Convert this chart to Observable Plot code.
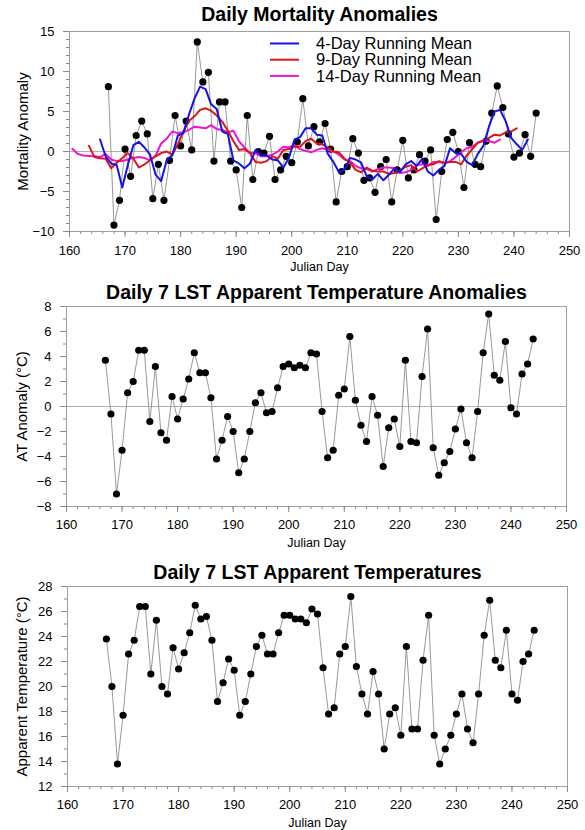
<!DOCTYPE html>
<html><head><meta charset="utf-8">
<script src="https://cdn.jsdelivr.net/npm/d3@7"></script>
<script src="https://cdn.jsdelivr.net/npm/@observablehq/plot@0.6"></script>
<style>
body{margin:0;background:#fff;font-family:"Liberation Sans",Arial,sans-serif;}
#wrap{position:relative;width:585px;height:830px;overflow:hidden;}
#wrap svg{position:absolute;left:0;}
</style></head><body><div id="wrap"></div>
<script>
// ---------- data ----------
const days = [167,168,169,170,171,172,173,174,175,176,177,178,179,180,181,182,183,184,185,186,187,188,189,190,191,192,193,194,195,196,197,198,199,200,201,202,203,204,205,206,207,208,209,210,211,212,213,214,215,216,217,218,219,220,221,222,223,224,225,226,227,228,229,230,231,232,233,234,235,236,237,238,239,240,241,242,243,244];
const mortality = [8.1,-9.2,-6.1,0.3,-3.1,2.0,3.8,2.2,-5.9,-1.6,-6.1,-1.1,4.5,0.7,3.8,0.2,13.7,8.7,9.9,-1.2,6.2,6.2,-1.2,-2.3,-7.0,4.5,-3.5,0.0,-0.2,1.9,-3.5,-2.3,-0.6,-1.4,1.2,6.6,0.7,3.1,1.2,3.5,0.3,-6.3,-2.5,-1.9,1.6,-0.2,-3.6,-3.3,-5.1,-1.9,-1.0,-6.3,-2.3,1.4,-3.3,-2.3,-0.4,-1.2,0.2,-8.5,-2.5,1.5,2.4,0.0,-4.5,1.1,-1.6,-1.9,1.3,4.8,8.2,5.5,2.2,-0.7,-0.2,2.1,-0.6,4.8];
const atAnomaly = [3.7,-0.6,-7.0,-3.5,1.1,2.0,4.5,4.5,-1.2,3.2,-2.1,-2.7,0.8,-1.0,0.6,2.2,4.3,2.7,2.7,0.7,-4.2,-2.7,-0.8,-2.0,-5.3,-4.2,-2.0,0.3,1.1,-0.5,-0.4,1.5,3.2,3.4,3.1,3.3,3.1,4.3,4.2,-0.4,-4.1,-3.5,0.9,1.4,5.6,0.5,-1.5,-2.8,0.8,-0.7,-4.8,-1.7,-1.0,-3.2,3.7,-2.8,-2.9,2.4,6.2,-3.3,-5.5,-4.5,-3.6,-1.8,-0.2,-2.9,-4.1,-0.4,4.3,7.4,2.5,2.1,5.2,-0.1,-0.6,2.6,3.4,5.4];
const appTemp = [23.8,20.0,13.8,17.7,22.6,23.7,26.4,26.4,21.0,25.3,20.0,19.4,23.1,21.4,22.7,24.3,26.5,25.4,25.6,23.7,18.8,20.3,22.2,21.3,17.7,18.8,21.0,23.2,24.1,22.6,22.6,24.3,25.7,25.7,25.4,25.4,25.1,26.2,25.8,21.5,17.8,18.3,22.6,23.2,27.2,21.6,19.4,17.8,21.2,19.4,15.0,17.8,18.3,16.1,23.2,16.6,16.6,22.1,25.7,16.1,13.8,15.0,16.1,17.8,19.4,16.6,15.5,19.4,24.1,26.9,22.1,21.5,24.5,19.4,18.9,22.0,22.6,24.5];

const run4Days = [165.5,166.5,167.5,168.5,169.5,170.5,171.5,172.5,173.5,174.5,175.5,176.5,177.5,178.5,179.5,180.5,181.5,182.5,183.5,184.5,185.5,186.5,187.5,188.5,189.5,190.5,191.5,192.5,193.5,194.5,195.5,196.5,197.5,198.5,199.5,200.5,201.5,202.5,203.5,204.5,205.5,206.5,207.5,208.5,209.5,210.5,211.5,212.5,213.5,214.5,215.5,216.5,217.5,218.5,219.5,220.5,221.5,222.5,223.5,224.5,225.5,226.5,227.5,228.5,229.5,230.5,231.5,232.5,233.5,234.5,235.5,236.5,237.5,238.5,239.5,240.5,241.5,242.5];
const run4 = [1.5,-0.6,-1.5,-1.7,-4.5,-1.7,0.8,1.2,0.5,-0.4,-2.9,-3.7,-1.1,-0.5,2.0,2.3,4.6,6.6,8.1,7.8,5.9,5.3,2.5,2.2,-1.1,-1.5,-2.1,-1.5,0.2,-0.5,-0.5,-1.0,-1.1,-2.0,-0.8,1.5,1.8,2.9,2.9,2.1,2.0,-0.3,-1.3,-2.6,-2.3,-0.8,-1.0,-1.4,-3.1,-3.5,-2.8,-3.6,-2.9,-2.1,-2.6,-1.6,-1.2,-1.8,-0.9,-2.5,-3.0,-2.3,-1.8,0.4,-0.2,-0.3,-1.3,-1.7,-0.3,0.7,3.1,5.0,5.2,3.8,1.7,0.9,0.2,1.5];

const run9Days = [163.5,164.5,165.5,166.5,167.5,168.5,169.5,170.5,171.5,172.5,173.5,174.5,175.5,176.5,177.5,178.5,179.5,180.5,181.5,182.5,183.5,184.5,185.5,186.5,187.5,188.5,189.5,190.5,191.5,192.5,193.5,194.5,195.5,196.5,197.5,198.5,199.5,200.5,201.5,202.5,203.5,204.5,205.5,206.5,207.5,208.5,209.5,210.5,211.5,212.5,213.5,214.5,215.5,216.5,217.5,218.5,219.5,220.5,221.5,222.5,223.5,224.5,225.5,226.5,227.5,228.5,229.5,230.5,231.5,232.5,233.5,234.5,235.5,236.5,237.5,238.5,239.5,240.5];
const run9 = [0.7,-0.7,-0.85,-0.9,-2.1,-1.4,-0.8,-0.2,-0.9,-2.0,-1.6,-1.1,-0.6,-0.2,0.0,-0.4,0.9,2.5,3.8,4.4,5.2,5.4,5.1,4.5,3.7,2.6,1.3,0.2,0.3,-0.2,-1.3,-1.4,-1.2,-0.6,-0.9,0.2,0.3,0.6,0.6,1.3,1.6,1.0,0.9,0.5,0.0,-0.1,-0.9,-1.4,-2.3,-2.6,-2.0,-2.4,-2.5,-2.5,-2.8,-2.7,-2.4,-1.9,-1.7,-2.5,-2.1,-1.7,-1.6,-1.2,-1.4,-1.3,-1.3,-1.6,-0.5,0.3,1.1,1.4,1.7,2.1,2.0,2.4,2.5,2.9];

const run14Days = [160.5,161.5,162.5,163.5,164.5,165.5,166.5,167.5,168.5,169.5,170.5,171.5,172.5,173.5,174.5,175.5,176.5,177.5,178.5,179.5,180.5,181.5,182.5,183.5,184.5,185.5,186.5,187.5,188.5,189.5,190.5,191.5,192.5,193.5,194.5,195.5,196.5,197.5,198.5,199.5,200.5,201.5,202.5,203.5,204.5,205.5,206.5,207.5,208.5,209.5,210.5,211.5,212.5,213.5,214.5,215.5,216.5,217.5,218.5,219.5,220.5,221.5,222.5,223.5,224.5,225.5,226.5,227.5,228.5,229.5,230.5,231.5,232.5,233.5,234.5,235.5,236.5,237.5];
const run14 = [0.35,-0.3,-0.5,-0.55,-0.6,-0.7,-0.3,-1.0,-1.2,-1.2,-1.0,-0.8,-0.7,-0.8,-1.1,-0.5,1.0,1.6,2.5,2.3,2.4,2.7,3.1,3.0,2.9,3.3,2.8,2.7,2.4,2.6,1.3,0.5,-0.2,-0.2,-0.6,-0.6,-0.4,0.0,0.6,0.5,0.8,0.3,0.1,-0.1,0.2,0.4,0.2,0.0,-0.4,-1.0,-1.2,-1.8,-2.1,-2.2,-2.5,-2.2,-2.0,-2.0,-2.1,-2.7,-2.6,-2.3,-1.7,-1.6,-1.8,-1.3,-1.3,-1.5,-1.2,-0.7,-0.1,0.4,0.6,1.1,1.3,1.3,1.1,1.5];

const titles = ["Daily Mortality Anomalies", "Daily 7 LST Apparent Temperature Anomalies", "Daily 7 LST Apparent Temperatures"];
const yLabels = ["Mortality Anomaly", "AT Anomaly (\u00B0C)", "Apparent Temperature (\u00B0C)"];
const xLabel = "Julian Day";
const legendLabels = ["4-Day Running Mean", "9-Day Running Mean", "14-Day Running Mean"];
const legendColors = ["#1414e6", "#e01414", "#f014d2"];

const xTicks = [160,170,180,190,200,210,220,230,240,250];
const yTicks1 = [-10,-5,0,5,10,15];
const yTicks2 = [-8,-6,-4,-2,0,2,4,6,8];
const yTicks3 = [12,14,16,18,20,22,24,26,28];

// ---------- helpers ----------
const FONT = "'Liberation Sans', Arial, Helvetica, sans-serif";
const TICK = "#8a8a8a";
const wrap = document.getElementById("wrap");
const xMinor = d3.range(160, 251, 2);

const pts = (xs, ys) => xs.map((x, i) => ({x, y: ys[i]}));

function axes(yMajor, yMinor, padX, padY) {
  return [
    Plot.axisX(xMinor, {tickSize: 3, stroke: TICK, fill: "none", label: null}),
    Plot.axisX(xTicks, {tickSize: 6, tickPadding: padX, stroke: TICK, fill: "black", fontSize: 13, label: null}),
    Plot.axisY(yMinor, {tickSize: 3, stroke: TICK, fill: "none", label: null}),
    Plot.axisY(yMajor, {tickSize: 6, tickPadding: padY, stroke: TICK, fill: "black", fontSize: 13, label: null})
  ];
}

function texts(title, titleDy, ylab, ylabDx, xlabDy) {
  return [
    Plot.text([title], {text: d => d, frameAnchor: "top", dy: titleDy, lineAnchor: "middle", textAnchor: "middle", fontSize: 19.5, fontWeight: "bold", fill: "black"}),
    Plot.text([ylab], {text: d => d, frameAnchor: "left", dx: ylabDx, rotate: -90, lineAnchor: "middle", textAnchor: "middle", fontSize: 15, fill: "black"}),
    Plot.text([xLabel], {text: d => d, frameAnchor: "bottom", dy: xlabDy, lineAnchor: "middle", textAnchor: "middle", fontSize: 12.5, fill: "black"})
  ];
}

function dotSeries(ys) {
  const data = pts(days, ys);
  return [
    Plot.line(data, {x: "x", y: "y", stroke: "#8c8c8c", strokeWidth: 0.9}),
    Plot.dot(data, {x: "x", y: "y", r: 3.6, fill: "black", stroke: "none"})
  ];
}

function legendMark() {
  return (index, scales, values, dims) => {
    const g = d3.create("svg:g");
    legendLabels.forEach((lab, i) => {
      const y = dims.marginTop + 12.5 + i * 16.2;
      g.append("line")
        .attr("x1", dims.marginLeft + 201).attr("x2", dims.marginLeft + 230)
        .attr("y1", y).attr("y2", y)
        .attr("stroke", legendColors[i]).attr("stroke-width", 2);
      g.append("text")
        .attr("x", dims.marginLeft + 247).attr("y", y).attr("dy", "0.35em")
        .attr("text-anchor", "start")
        .attr("font-size", 16.5).attr("fill", "black").text(lab);
    });
    return g.node();
  };
}

function place(svg, top) {
  svg.style.top = top + "px";
  wrap.append(svg);
}

const baseStyle = {fontFamily: FONT, fontSize: "13px", background: "white", color: "black", overflow: "visible"};

// ---------- panel 1 ----------
place(Plot.plot({
  width: 585, height: 280,
  marginLeft: 69, marginRight: 16, marginTop: 31, marginBottom: 49,
  x: {domain: [160, 250]}, y: {domain: [-10, 15]},
  style: baseStyle,
  marks: [
    Plot.ruleY([0], {stroke: "#b0b0b0", strokeWidth: 1}),
    ...dotSeries(mortality),
    Plot.line(pts(run14Days, run14), {x: "x", y: "y", stroke: legendColors[2], strokeWidth: 2}),
    Plot.line(pts(run9Days, run9), {x: "x", y: "y", stroke: legendColors[1], strokeWidth: 2}),
    Plot.line(pts(run4Days, run4), {x: "x", y: "y", stroke: legendColors[0], strokeWidth: 2}),
    legendMark(),
    Plot.frame({stroke: "#a0a0a0"}),
    ...axes(yTicks1, d3.range(-10, 16, 1), 8, 9),
    ...texts(titles[0], -17, yLabels[0], -46, 35)
  ]
}), 0);

// ---------- panel 2 ----------
place(Plot.plot({
  width: 585, height: 280,
  marginLeft: 66, marginRight: 19, marginTop: 26, marginBottom: 54,
  x: {domain: [160, 250]}, y: {domain: [-8, 8]},
  style: baseStyle,
  marks: [
    Plot.ruleY([0], {stroke: "#b0b0b0", strokeWidth: 1}),
    ...dotSeries(atAnomaly),
    Plot.frame({stroke: "#a0a0a0"}),
    ...axes(yTicks2, d3.range(-8, 9, 1), 7, 9),
    ...texts(titles[1], -14, yLabels[1], -44, 36)
  ]
}), 280);

// ---------- panel 3 ----------
place(Plot.plot({
  width: 585, height: 270,
  marginLeft: 67, marginRight: 18, marginTop: 26, marginBottom: 44,
  x: {domain: [160, 250]}, y: {domain: [12, 28]},
  style: baseStyle,
  marks: [
    ...dotSeries(appTemp),
    Plot.frame({stroke: "#a0a0a0"}),
    ...axes(yTicks3, d3.range(12, 29, 1), 7, 9),
    ...texts(titles[2], -14, yLabels[2], -45, 36)
  ]
}), 560);
</script>
</body></html>
